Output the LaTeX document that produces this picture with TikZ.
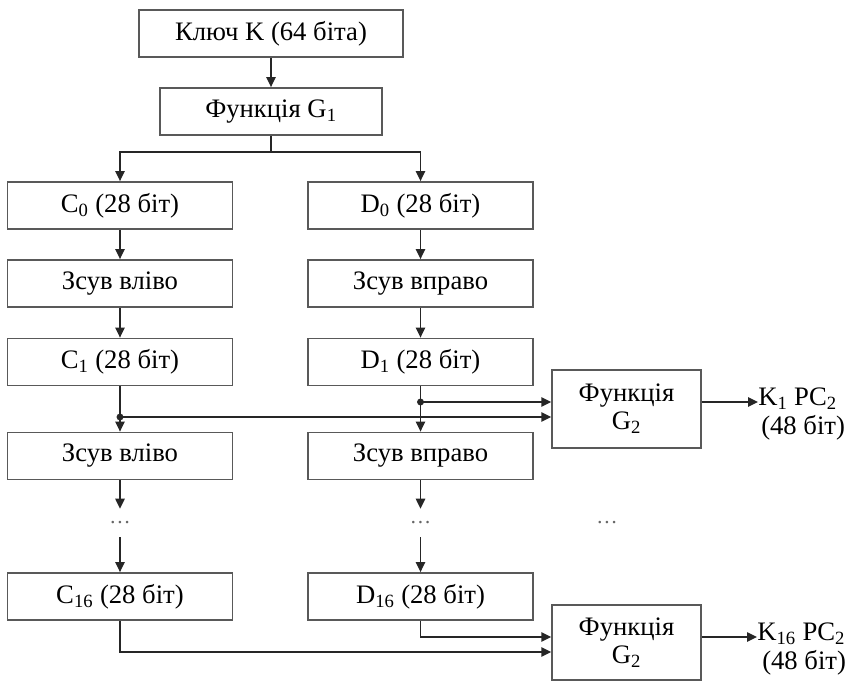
\documentclass[tikz,border=0pt]{standalone}
\usepackage{fontspec}
\setmainfont{Liberation Serif}
\usetikzlibrary{arrows.meta,calc}
\begin{document}
\begin{tikzpicture}[x=0.75pt,y=-0.75pt,
  box/.style={draw=black!65,line width=1.1pt,minimum height=35.5pt,inner sep=0pt,
    font=\fontsize{20}{21}\selectfont,align=center},
  cbox/.style={box,minimum width=168.75pt},
  gbox/.style={box,minimum width=111.75pt},
  arr/.style={draw=black!85,line width=1.1pt,-{Triangle[length=7.5pt,width=7pt]}},
  ln/.style={draw=black!85,line width=1.1pt},
  lbl/.style={inner sep=0pt,font=\fontsize{20}{21}\selectfont},
  dotsn/.style={inner sep=0pt,minimum height=21pt,text=black!60,font=\fontsize{16}{18}\selectfont},
  jdot/.style={fill=black!85}
]
\useasboundingbox (0,0) rectangle (845,681);
\node[box,minimum width=198pt] (key) at (271,33.5) {Ключ K (64 біта)};
\node[box,minimum width=166.5pt] (g1) at (271,111.5) {Функція G\textsubscript{1}};
\node[cbox] (c0) at (120,205.5) {C\textsubscript{0} (28 біт)};
\node[cbox] (d0) at (420.5,205.5) {D\textsubscript{0} (28 біт)};
\node[cbox] (sl1) at (120,283.5) {Зсув вліво};
\node[cbox] (sr1) at (420.5,283.5) {Зсув вправо};
\node[cbox] (c1) at (120,362) {C\textsubscript{1} (28 біт)};
\node[cbox] (d1) at (420.5,362) {D\textsubscript{1} (28 біт)};
\node[cbox] (sl2) at (120,456) {Зсув вліво};
\node[cbox] (sr2) at (420.5,456) {Зсув вправо};
\node[dotsn] (dc) at (120,523) {\ldots};
\node[dotsn] (dd) at (420.5,523) {\ldots};
\node[dotsn] (dg) at (607,523) {\ldots};
\node[cbox] (c16) at (120,596.5) {C\textsubscript{16} (28 біт)};
\node[cbox] (d16) at (420.5,596.5) {D\textsubscript{16} (28 біт)};
\node[gbox,minimum height=58.5pt] (g2a) at (626.5,409) {Функція\\G\textsubscript{2}};
\node[gbox,minimum height=56.25pt] (g2b) at (626.5,642.5) {Функція\\G\textsubscript{2}};
\node[lbl,anchor=base west] (k1) at (758,405) {K\textsubscript{1} PC\textsubscript{2}};
\node[lbl,anchor=base west] (k1b) at (761,434) {(48 біт)};
\node[lbl,anchor=base west] (k16) at (757,640) {K\textsubscript{16} PC\textsubscript{2}};
\node[lbl,anchor=base west] (k16b) at (762,669) {(48 біт)};
% coordinates
\coordinate (br) at (271,152);
\coordinate (jc) at (120,417);
\coordinate (jd) at (420.5,402);
\coordinate (b1) at (0,637);
\coordinate (b2) at (0,652);
% connectors
\draw[arr] (key) -- (g1);
\draw[ln] (g1.south) -- (br);
\draw[arr] (br) -| (c0.north);
\draw[arr] (br) -| (d0.north);
\draw[arr] (c0) -- (sl1);
\draw[arr] (sl1) -- (c1);
\draw[arr] (d0) -- (sr1);
\draw[arr] (sr1) -- (d1);
\draw[arr] (c1) -- (sl2);
\draw[arr] (d1) -- (sr2);
\fill[jdot] (jc) circle (2.6pt);
\fill[jdot] (jd) circle (2.6pt);
\draw[arr] (jd) -- (jd -| g2a.west);
\draw[arr] (jc) -- (jc -| g2a.west);
\draw[arr] (g2a.east |- jd) -- (k1.west |- jd);
\draw[arr] (sl2) -- (dc);
\draw[arr] (sr2) -- (dd);
\draw[arr] (dc) -- (c16);
\draw[arr] (dd) -- (d16);
\draw[arr] (d16.south) |- (g2b.west |- b1);
\draw[arr] (c16.south) |- (g2b.west |- b2);
\draw[arr] (g2b.east |- b1) -- (k16.west |- b1);
\end{tikzpicture}
\end{document}
